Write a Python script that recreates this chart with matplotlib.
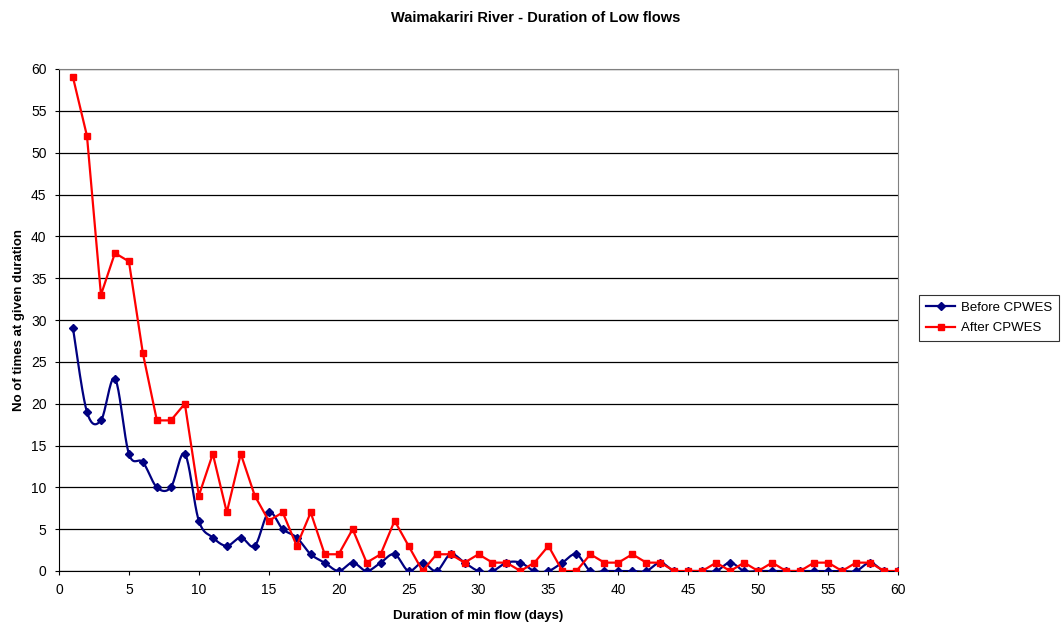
import numpy as np
import matplotlib
matplotlib.use("Agg")
import matplotlib.pyplot as plt

plt.rcParams['font.family'] = ['Liberation Sans', 'DejaVu Sans']

# data
days = list(range(1, 61))
before = [29, 19, 18, 23, 14, 13, 10, 10, 14, 6,
          4, 3, 4, 3, 7, 5, 4, 2, 1, 0,
          1, 0, 1, 2, 0, 1, 0, 2, 1, 0,
          0, 1, 1, 0, 0, 1, 2, 0, 0, 0,
          0, 0, 1, 0, 0, 0, 0, 1, 0, 0,
          0, 0, 0, 0, 0, 0, 0, 1, 0, 0]
after = [59, 52, 33, 38, 37, 26, 18, 18, 20, 9,
         14, 7, 14, 9, 6, 7, 3, 7, 2, 2,
         5, 1, 2, 6, 3, 0, 2, 2, 1, 2,
         1, 1, 0, 1, 3, 0, 0, 2, 1, 1,
         2, 1, 1, 0, 0, 0, 1, 0, 1, 0,
         1, 0, 0, 1, 1, 0, 1, 1, 0, 0]


def smooth(x, y, n=20):
    # Catmull-Rom style smoothing, similar to Excel's smoothed line
    x = np.asarray(x, float)
    y = np.asarray(y, float)
    px = np.concatenate([[x[0]], x, [x[-1]]])
    py = np.concatenate([[y[0]], y, [y[-1]]])
    xs, ys = [], []
    t = np.linspace(0, 1, n, endpoint=False)
    for i in range(1, len(px) - 2):
        p0, p1, p2, p3 = (np.array([px[j], py[j]]) for j in (i - 1, i, i + 1, i + 2))
        c1 = p1 + (p2 - p0) / 6
        c2 = p2 - (p3 - p1) / 6
        pts = ((1 - t)[:, None] ** 3 * p1 + 3 * ((1 - t) ** 2 * t)[:, None] * c1
               + 3 * ((1 - t) * t ** 2)[:, None] * c2 + (t ** 3)[:, None] * p2)
        xs.extend(pts[:, 0])
        ys.extend(pts[:, 1])
    xs.append(x[-1])
    ys.append(y[-1])
    return xs, ys


fig = plt.figure(figsize=(10.61, 6.27), dpi=100)
ax = fig.add_axes([59 / 1061, 1 - 571 / 627, 839 / 1061, 502 / 627])

blue = '#000080'
red = '#ff0000'

sx, sy = smooth(days, before)
ax.plot(sx, sy, color=blue, lw=1.6, zorder=3)
ax.plot(days, before, ls='none', marker='D', ms=4, color=blue, zorder=4)
ax.plot(days, after, color=red, lw=1.6, marker='s', ms=5, zorder=5)

# legend handles
h1, = ax.plot([], [], color=blue, lw=1.6, marker='D', ms=4, label='Before CPWES')
h2, = ax.plot([], [], color=red, lw=1.6, marker='s', ms=5, label='After CPWES')

ax.set_xlim(0, 60)
ax.set_ylim(0, 60)
ax.set_xticks(range(0, 61, 5))
ax.set_yticks(range(0, 61, 5))
ax.tick_params(labelsize=10, direction='out', length=3, width=0.8, color='black', pad=6)
ax.grid(axis='y', color='black', lw=0.9)
ax.set_axisbelow(True)
for s in ['top', 'right']:
    ax.spines[s].set_color('#808080')
for s in ['left', 'bottom']:
    ax.spines[s].set_color('black')

ax.set_xlabel('Duration of min flow (days)', fontsize=9.5, fontweight='bold', labelpad=9)
ax.set_ylabel('No of times at given duration', fontsize=9.5, fontweight='bold', labelpad=4)
fig.text(536 / 1061, 1 - 18 / 627, 'Waimakariri River - Duration of Low flows',
         ha='center', va='center', fontsize=10.5, fontweight='bold')

leg = fig.legend(handles=[h1, h2], loc='center left', bbox_to_anchor=(919 / 1061, 1 - 318 / 627),
                 fontsize=9.5, frameon=True, fancybox=False, edgecolor='black',
                 borderpad=0.55, handlelength=2.2, handletextpad=0.4,
                 labelspacing=0.6, borderaxespad=0)
leg.get_frame().set_linewidth(0.8)

fig.savefig('out.png', dpi=100)
